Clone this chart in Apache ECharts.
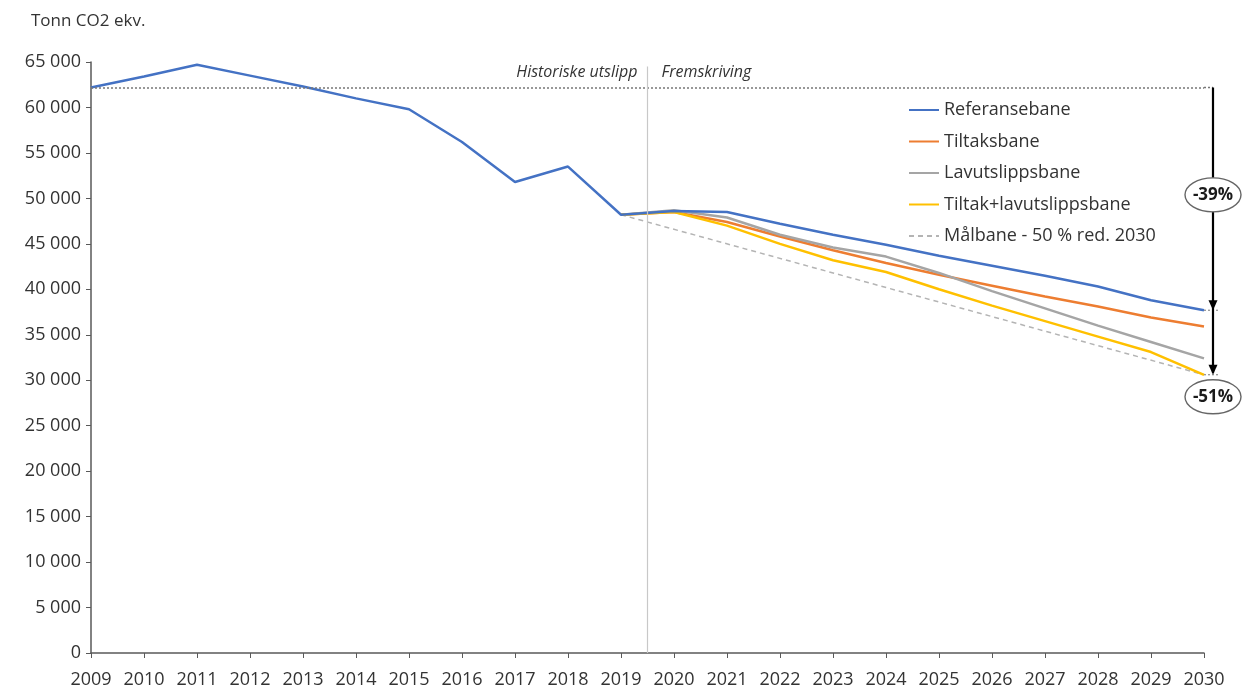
<!DOCTYPE html>
<html>
<head>
  <meta charset="utf-8">
  <title>Tonn CO2 ekv.</title>
  <script src="https://cdn.jsdelivr.net/npm/echarts@6/dist/echarts.min.js"></script>
  <style>
    html, body { margin: 0; padding: 0; background: #fff; }
    #main { width: 1246px; height: 693px; }
  </style>
</head>
<body>
<div id="main"></div>
<script type="text/javascript">
var myChart = echarts.init(document.getElementById('main'));

var years = [2009, 2010, 2011, 2012, 2013, 2014, 2015, 2016, 2017, 2018, 2019,
  2020, 2021, 2022, 2023, 2024, 2025, 2026, 2027, 2028, 2029, 2030];

var referansebane = [62200, 63400, 64700, 63500, 62300, 61000, 59800, 56200, 51800, 53500, 48200,
  48600, 48500, 47200, 46000, 44900, 43700, 42600, 41500, 40300, 38800, 37700];
var tiltaksbane = [null, null, null, null, null, null, null, null, null, null, 48200,
  48500, 47400, 45800, 44300, 42900, 41600, 40400, 39200, 38100, 36900, 35900];
var lavutslippsbane = [null, null, null, null, null, null, null, null, null, null, 48200,
  48700, 47900, 46000, 44600, 43600, 41800, 39800, 37900, 36000, 34200, 32400];
var tiltakLavutslipp = [null, null, null, null, null, null, null, null, null, null, 48200,
  48500, 47000, 45000, 43200, 41900, 40000, 38200, 36500, 34800, 33100, 30600];
// målbane: straight line from 2019 to the 2030 target
var malbane = [null, null, null, null, null, null, null, null, null, null, 48200,
  null, null, null, null, null, null, null, null, null, null, 30600];

var baseLevel = 62200;   // 2009 level, dotted line
var splitYear = 2019.5;  // historic / projection separator

function pairs(vals) {
  return years.map(function (y, i) { return [y, vals[i]]; });
}

function lineSeries(name, vals, color, extra) {
  var s = {
    name: name,
    type: 'line',
    symbol: 'none',
    showSymbol: false,
    connectNulls: false,
    lineStyle: { color: color, width: 2.5 },
    itemStyle: { color: color },
    data: pairs(vals)
  };
  for (var k in extra) s[k] = extra[k];
  return s;
}

var font = '"Open Sans", "Noto Sans", sans-serif';

var option = {
  backgroundColor: '#ffffff',
  animation: false,
  textStyle: { fontFamily: font },
  title: {
    text: 'Tonn CO2 ekv.',
    left: 26,
    top: 8,
    textStyle: { fontSize: 17, fontWeight: 'normal', color: '#333333', fontFamily: font }
  },
  grid: { left: 91, right: 42, top: 62, bottom: 40, containLabel: false },
  legend: {
    orient: 'vertical',
    left: 903,
    top: 96,
    itemWidth: 30,
    itemHeight: 12,
    itemGap: 13.5,
    itemStyle: { opacity: 0 },
    textStyle: { fontSize: 18, color: '#333333', fontFamily: font },
    data: ['Referansebane', 'Tiltaksbane', 'Lavutslippsbane', 'Tiltak+lavutslippsbane', 'Målbane - 50 % red. 2030']
  },
  xAxis: {
    type: 'value',
    min: 2009,
    max: 2030,
    interval: 1,
    splitLine: { show: false },
    axisLine: { lineStyle: { color: '#595959', width: 1.5 } },
    axisTick: { show: true, length: 5, lineStyle: { color: '#595959' } },
    axisLabel: {
      color: '#333333',
      fontSize: 18,
      margin: 18,
      formatter: function (v) { return String(v); }
    }
  },
  yAxis: {
    type: 'value',
    min: 0,
    max: 65000,
    interval: 5000,
    splitLine: { show: false },
    axisLine: { show: true, lineStyle: { color: '#595959', width: 1.5 } },
    axisTick: { show: true, length: 5, lineStyle: { color: '#595959' } },
    axisLabel: {
      color: '#333333',
      fontSize: 18,
      margin: 10,
      formatter: function (v) { return String(v).replace(/\B(?=(\d{3})+(?!\d))/g, ' '); }
    }
  },
  series: [
    lineSeries('Målbane - 50 % red. 2030', malbane, '#b4b4b4', {
      connectNulls: true,
      lineStyle: { color: '#b4b4b4', width: 1.5, type: [5, 4] },
      z: 1
    }),
    lineSeries('Referansebane', referansebane, '#4472C4', {
      z: 3,
      markLine: {
        silent: true,
        symbol: 'none',
        label: { show: false },
        data: [
          [{ coord: [2009, baseLevel] }, { coord: [2030, baseLevel] }],
          [{ coord: [splitYear, 64500] }, { coord: [splitYear, 0] }]
        ].map(function (d, i) {
          d[0].lineStyle = i === 0
            ? { color: '#777777', width: 1.5, type: [2, 2] }
            : { color: '#c8c8c8', width: 1.2, type: 'solid' };
          return d;
        })
      }
    }),
    lineSeries('Tiltaksbane', tiltaksbane, '#ED7D31', { z: 2 }),
    lineSeries('Lavutslippsbane', lavutslippsbane, '#A5A5A5', { z: 2 }),
    lineSeries('Tiltak+lavutslippsbane', tiltakLavutslipp, '#FFC000', { z: 2 })
  ]
};

myChart.setOption(option);

// annotations placed through the chart's own scales
function px(x, y) { return myChart.convertToPixel({ gridIndex: 0 }, [x, y]); }

var last = years.length - 1;
var refEnd = referansebane[last];
var targetEnd = tiltakLavutslipp[last];
var x2030 = px(2030, 0)[0];
var ax = x2030 + 9;
var yTop = px(2030, baseLevel)[1];
var yMid = px(2030, refEnd)[1];
var yBot = px(2030, targetEnd)[1];
var pct1 = Math.round((refEnd / baseLevel - 1) * 100) + '%';
var pct2 = Math.round((targetEnd / baseLevel - 1) * 100) + '%';

function arrowHead(x, y) {
  return {
    type: 'polygon',
    shape: { points: [[x - 4.5, y - 10], [x + 4.5, y - 10], [x, y]] },
    style: { fill: '#000' },
    z: 20
  };
}

function ellipse(cx, cy, text) {
  return [
    {
      type: 'ellipse',
      shape: { cx: cx, cy: cy, rx: 28, ry: 17 },
      style: { fill: '#fff', stroke: '#666', lineWidth: 1.4 },
      z: 30
    },
    {
      type: 'text',
      x: cx,
      y: cy,
      z: 31,
      style: {
        text: text,
        align: 'center',
        verticalAlign: 'middle',
        fontSize: 17,
        fontWeight: 'bold',
        fill: '#1a1a1a',
        fontFamily: font
      }
    }
  ];
}

var sx = px(splitYear, 0)[0];
var sy = px(splitYear, 64500)[1];

var graphics = [
  { type: 'line', shape: { x1: x2030, y1: yTop, x2: ax, y2: yTop }, style: { stroke: '#777', lineWidth: 1.5, lineDash: [2, 2] }, z: 19 },
  { type: 'line', shape: { x1: ax, y1: yTop, x2: ax, y2: yBot - 2 }, style: { stroke: '#000', lineWidth: 2.2 }, z: 20 },
  arrowHead(ax, yMid),
  arrowHead(ax, yBot),
  { type: 'line', shape: { x1: x2030, y1: yMid, x2: ax + 6, y2: yMid }, style: { stroke: '#777', lineWidth: 1, lineDash: [2, 2] }, z: 19 },
  { type: 'line', shape: { x1: x2030, y1: yBot, x2: ax + 6, y2: yBot }, style: { stroke: '#777', lineWidth: 1, lineDash: [2, 2] }, z: 19 },
  {
    type: 'text', x: sx - 10, y: sy + 6, z: 20,
    style: { text: 'Historiske utslipp', align: 'right', verticalAlign: 'middle', fontSize: 16, fontStyle: 'italic', fill: '#333333', fontFamily: font }
  },
  {
    type: 'text', x: sx + 14, y: sy + 6, z: 20,
    style: { text: 'Fremskriving', align: 'left', verticalAlign: 'middle', fontSize: 16, fontStyle: 'italic', fill: '#333333', fontFamily: font }
  }
].concat(ellipse(ax, (yTop + yMid) / 2 - 4, pct1), ellipse(ax, yBot + 22, pct2));

myChart.setOption({ graphic: graphics });
</script>
</body>
</html>
